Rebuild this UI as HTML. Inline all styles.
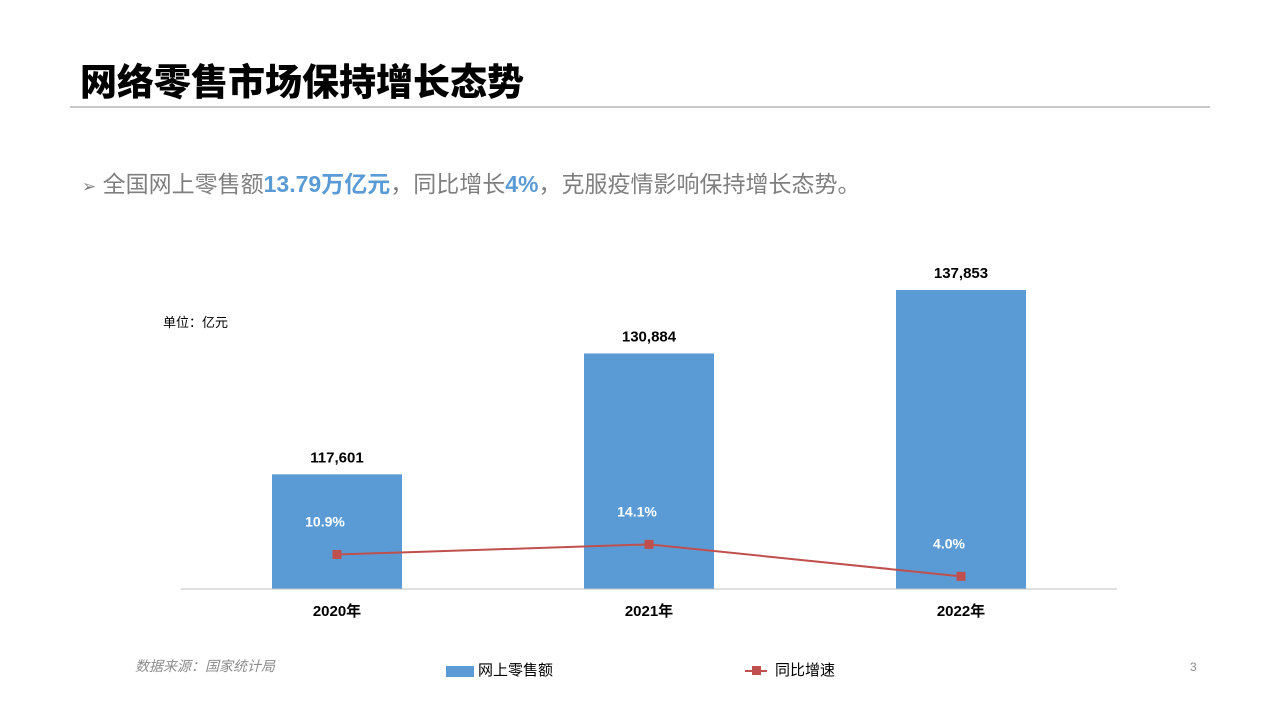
<!DOCTYPE html>
<html><head><meta charset="utf-8"><style>
body{margin:0;width:1280px;height:720px;background:#fff;overflow:hidden;font-family:"Liberation Sans","Noto Sans CJK SC",sans-serif;position:relative}
.abs{position:absolute;white-space:nowrap}
</style></head><body>
<div class="abs" style="left:80px;top:52px;font-size:37px;font-weight:900;color:#000">网络零售市场保持增长态势</div>
<div class="abs" style="left:70px;top:106px;width:1140px;height:2px;background:#c8c8c8"></div>
<div class="abs" style="left:82px;top:165px;font-size:23px;color:#7f7f7f"><span style="font-size:17px">➢</span> 全国网上零售额<b style="color:#5b9bd5">13.79万亿元</b>，同比增长<b style="color:#5b9bd5">4%</b>，克服疫情影响保持增长态势。</div>
<div class="abs" style="left:163px;top:312px;font-size:13px;color:#000">单位：亿元</div>
<div class="abs" style="left:135px;top:656px;font-size:14px;font-style:italic;color:#8c8c8c">数据来源：国家统计局</div>
<div class="abs" style="left:1190px;top:660px;font-size:12px;color:#8c8c8c">3</div>
<div class="abs" style="left:446px;top:659px;font-size:15px;color:#000"><span style="display:inline-block;width:28px;height:11px;background:#5b9bd5;vertical-align:middle;margin-right:4px"></span>网上零售额</div>
<div class="abs" style="left:745px;top:659px;font-size:15px;color:#000"><span style="display:inline-block;width:22px;height:2px;background:#c0504d;vertical-align:middle;margin-right:8px;position:relative"><span style="position:absolute;left:7px;top:-4px;width:9px;height:9px;background:#c0504d"></span></span>同比增速</div>
<svg id="chart" width="1280" height="720" style="position:absolute;left:0;top:0"></svg>
<script>
const categories=["2020年","2021年","2022年"];
const salesValues=[117601,130884,137853];
const salesLabels=["117,601","130,884","137,853"];
const growthValues=[10.9,14.1,4.0];
const growthLabels=["10.9%","14.1%","4.0%"];
const svg=document.getElementById('chart');
const NS='http://www.w3.org/2000/svg';
const x0=181,x1=1117,base=589,yTop=261.4;
const yMin=105000,yMax=141000,gMax=103.5;
const band=(x1-x0)/categories.length;
const xc=i=>x0+band*(i+0.5);
const yS=v=>base-(v-yMin)/(yMax-yMin)*(base-yTop);
const yG=v=>base-v/gMax*(base-yTop);
function mk(t,a){const e=document.createElementNS(NS,t);for(const k in a)e.setAttribute(k,a[k]);svg.appendChild(e);return e;}
const bw=130;
salesValues.forEach((v,i)=>{
 const r=mk('rect',{x:xc(i)-bw/2,y:yS(v),width:bw,height:base-yS(v),fill:'#5b9bd5'});
 
 
 const t=mk('text',{x:xc(i),y:yS(v)-12,'text-anchor':'middle','font-size':15,'font-weight':'bold',fill:'#000'});
 t.textContent=salesLabels[i];
 
 
 const c=mk('text',{x:xc(i),y:base+27,'text-anchor':'middle','font-size':15,'font-weight':'bold',fill:'#000'});
 c.textContent=categories[i];
 
 
});
const ax=mk('line',{x1:x0,x2:x1,y1:base,y2:base,stroke:'#bfbfbf','stroke-width':1});


const pl=mk('polyline',{points:growthValues.map((v,i)=>xc(i)+','+yG(v)).join(' '),fill:'none',stroke:'#c0504d','stroke-width':2});


growthValues.forEach((v,i)=>{
 const m=mk('rect',{x:xc(i)-4.5,y:yG(v)-4.5,width:9,height:9,fill:'#c0504d'});
 
 
 const t=mk('text',{x:xc(i)-12,y:yG(v)-28,'text-anchor':'middle','font-size':14,'font-weight':'bold',fill:'#fff'});
 t.textContent=growthLabels[i];
 
 
});
</script>
</body></html>
